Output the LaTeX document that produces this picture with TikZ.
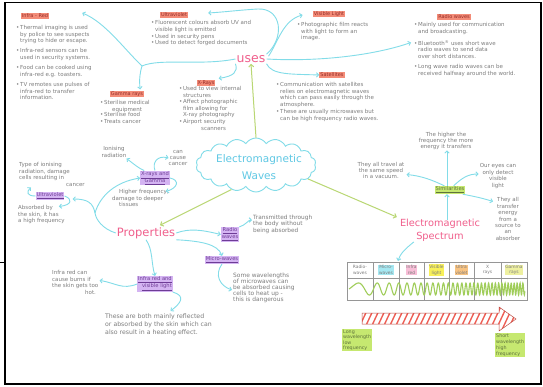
\documentclass[tikz,border=0pt]{standalone}
\usepackage{fontspec}
\setmainfont{DejaVu Sans}
\usetikzlibrary{arrows.meta,shapes.symbols,calc}
\definecolor{txtc}{RGB}{125,125,125}
\definecolor{hlred}{RGB}{243,140,120}
\definecolor{hdrtext}{RGB}{150,45,40}
\definecolor{hlpur}{RGB}{212,180,242}
\definecolor{purtext}{RGB}{110,60,150}
\definecolor{hlgreen}{RGB}{198,232,112}
\definecolor{grtext}{RGB}{95,115,60}
\definecolor{cyanl}{RGB}{130,220,232}
\definecolor{cyant}{RGB}{95,200,228}
\definecolor{greenl}{RGB}{185,215,115}
\definecolor{pinkc}{RGB}{240,95,140}
\definecolor{wavec}{RGB}{160,205,90}
\definecolor{stripec}{RGB}{238,95,85}
\definecolor{gridc}{RGB}{150,150,150}
\definecolor{hlcyan}{RGB}{165,232,242}
\definecolor{hlpink}{RGB}{248,190,215}
\definecolor{hlyel}{RGB}{248,240,90}
\definecolor{hlorange}{RGB}{248,195,130}
\definecolor{hllime}{RGB}{238,240,160}
\newcommand\bu{\makebox[4pt][l]{\textbullet}}
\newcommand\ii{\hspace*{4pt}}
\begin{document}
\begin{tikzpicture}[x=1pt,y=-1pt,
 txt/.style={text=txtc,font=\fontsize{5.5}{6.4}\selectfont,align=left,inner sep=0pt,anchor=north west},
 ctxt/.style={text=txtc,font=\fontsize{5.5}{6.4}\selectfont,align=center,inner sep=0pt},
 hdr/.style={fill=hlred,text=hdrtext,font=\fontsize{5}{6}\selectfont,inner sep=1pt},
 phdr/.style={fill=hlpur,text=purtext,font=\fontsize{5.2}{7}\selectfont,inner sep=0.8pt,align=center},
 ghdr/.style={fill=hlgreen,text=grtext,font=\fontsize{5.2}{6}\selectfont,inner sep=1pt,align=left},
 title/.style={text=pinkc,align=center,inner sep=1pt},
 carrow/.style={draw=cyanl,line width=0.9pt,-{Straight Barb[length=2.2pt,width=4.4pt]}},
 cline/.style={draw=cyanl,line width=0.9pt},
 garrow/.style={draw=greenl,line width=1pt,-{Straight Barb[length=2.5pt,width=5pt]}},
 lbl/.style={text=txtc,font=\fontsize{4.4}{5.6}\selectfont,align=center,inner sep=0.6pt},
]
\useasboundingbox (0,0) rectangle (543,387);
\fill[white] (0,0) rectangle (543,387);
\draw[line width=1.6pt] (5,2.5) rectangle (541,384);
\draw[line width=1pt] (0,262) -- (5,262);

% ---------- uses ----------
\node[title,font=\fontsize{12.5}{14}\selectfont] (uses) at (251,59) {uses};

\node[hdr] (irh) at (35,16) {Infra - Red};
\node[txt] (ir1) at (16,25.5) {\bu Thermal imaging is used\\\ii by police to see suspects\\\ii trying to hide or escape.};
\node[txt] (ir2) at (16,48.5) {\bu Infra-red sensors can be\\\ii used in security systems.};
\node[txt] (ir3) at (16,65.5) {\bu Food can be cooked using\\\ii infra-red e.g. toasters.};
\node[txt] (ir4) at (16,82.5) {\bu TV remotes use pulses of\\\ii infra-red to transfer\\\ii information.};

\node[hdr] (uvh) at (174,15) {Ultraviolet};
\node[txt] (uv1) at (151,20.5) {\bu Fluorescent colours absorb UV and\\\ii visible light is emitted};
\node[txt] (uv2) at (151,34) {\bu Used in security pens};
\node[txt] (uv3) at (151,40) {\bu Used to detect forged documents};

\node[hdr] (vlh) at (329,14) {Visible Light};
\node[txt] (vl1) at (297,22.5) {\bu Photographic film reacts\\\ii with light to form an\\\ii image.};

\node[hdr] (rh) at (454,17) {Radio waves};
\node[txt] (r1) at (414,22.5) {\bu Mainly used for communication\\\ii and broadcasting.};
\node[txt] (r2) at (414,40.5) {\bu Bluetooth\textsuperscript{®} uses short wave\\\ii radio waves to send data\\\ii over short distances.};
\node[txt] (r3) at (414,64.5) {\bu Long wave radio waves can be\\\ii received halfway around the world.};

\node[hdr] (gh) at (127,94) {Gamma rays};
\node[txt] (g1) at (100,100.5) {\bu Sterilise medical\\\hspace*{12pt}equipment};
\node[txt] (g2) at (100,112.5) {\bu Sterilise food};
\node[txt] (g3) at (100,119.5) {\bu Treats cancer};

\node[hdr] (xh) at (206,83) {X-Rays};
\node[txt] (x1) at (179,86.5) {\bu Used to view internal\\\ii structures};
\node[txt] (x2) at (179,99.5) {\bu Affect photographic\\\ii film allowing for\\\ii X-ray photography};
\node[txt] (x3) at (179,119.5) {\bu Airport security\\\hspace*{22pt}scanners};

\node[hdr] (sath) at (332,75) {Satellites};
\node[txt] (s1) at (276,82.5) {\bu Communication with satellites\\\ii relies on electromagnetic waves\\\ii which can pass easily through the\\\ii atmosphere.};
\node[txt] (s2) at (276,109.5) {\bu These are usually microwaves but\\\ii can be high frequency radio waves.};

\draw[carrow] (uses.north east) .. controls (285,38) and (282,8) .. (258,9) .. controls (240,10) and (225,12) .. ($(uvh.east)+(20,-2)$);
\draw[carrow] ($(uses.north east)+(2,2)$) .. controls (278,42) and (283,20) .. ($(vlh.west)+(-10,1)$);
\draw[carrow] (uses.east) .. controls (320,62) and (375,55) .. ($(r2.north west)+(-3,2)$);
\draw[carrow] (uses.south east) .. controls (272,75) and (290,74) .. (sath.west);
\draw[carrow] (uses.south west) .. controls (238,72) and (234,76) .. ($(xh.north east)+(3,-1)$);
\coordinate (ub) at (142,66);
\draw[cline] (uses.west) .. controls (200,66) and (160,58) .. (ub);
\draw[carrow] (ub) .. controls (140,72) and (139,80) .. ($(gh.north east)+(-4,-1)$);
\draw[carrow] (ub) .. controls (125,50) and (105,22) .. ($(irh.east)+(33,-3)$);

% ---------- centre ----------
\node[cloud,draw=cyanl,line width=0.9pt,cloud puffs=18,cloud puff arc=115,aspect=2.2,minimum width=120pt,minimum height=54pt,inner sep=0pt] (cloud) at (256,165) {};
\node[text=cyant,font=\fontsize{10.5}{17}\selectfont,align=center] (ew) at (259,167) {Electromagnetic\\Waves};

% ---------- properties ----------
\node[title,font=\fontsize{11.5}{13}\selectfont] (props) at (146,233) {Properties};

\node[ctxt] (ion) at (114,152) {Ionising\\radiation};
\node[phdr] (xg) at (155,178) {\underline{X-rays and}\\\underline{Gamma}};
\node[ctxt] (cancer) at (178,158) {can\\cause\\cancer};
\node[txt] (higher) at (112,189.5) {\hspace*{7pt}Higher frequency,\\damage to deeper\\\hspace*{7pt}tissues};
\node[phdr] (uvp) at (50,196) {\underline{Ultraviolet}};
\node[txt] (type) at (19,162.5) {Type of ionising\\radiation, damage\\cells resulting in\\\hspace*{47pt}cancer};
\node[txt] (absorbed) at (18,205.5) {Absorbed by\\the skin, it has\\a high frequency};
\node[phdr,align=right] (irv) at (155,284) {\underline{Infra red and}\\\underline{visible light}};
\node[txt] (burns) at (52,270.5) {Infra red can\\cause burns if\\the skin gets too\\\hspace*{33pt}hot.};
\node[txt,font=\fontsize{6.2}{8}\selectfont] (both) at (105,314) {These are both mainly reflected\\or absorbed by the skin which can\\also result in a heating effect.};
\node[phdr] (rw) at (230,234.5) {\underline{Radio}\\\underline{waves}};
\node[txt,font=\fontsize{5.8}{6.5}\selectfont] (trans) at (253,214.5) {Transmitted through\\the body without\\being absorbed};
\node[phdr] (mw) at (222,260) {\underline{Micro-waves}};
\node[txt,font=\fontsize{5.9}{6.2}\selectfont] (some) at (233,272.5) {Some wavelengths\\of microwaves can\\be absorbed causing\\cells to heat up -\\this is dangerous};

\coordinate (pb) at (95,213);
\draw[cline] (props.west) .. controls (103,229) and (96,220) .. (pb);
\draw[carrow] (pb) .. controls (93,203) and (88,199) .. ($(uvp.east)+(8,3)$);
\draw[carrow] (pb) .. controls (100,196) and (115,182) .. (xg.west);
\draw[carrow] ($(xg.north west)+(4,0)$) .. controls (138,168) and (134,164) .. ($(ion.south east)+(0,1)$);
\draw[carrow] (xg.north) .. controls (152,163) and (157,155) .. (cancer.west);
\draw[carrow] (xg.east) .. controls (180,180) and (178,188) .. ($(higher.north east)+(-3,2)$);
\draw[carrow] (uvp.west) .. controls (27,196) and (26,192) .. ($(type.south west)+(12,1)$);
\draw[carrow] (uvp.east) .. controls (73,199) and (72,205) .. ($(absorbed.north east)+(-6,1)$);
\draw[carrow] (props.south) .. controls (153,250) and (151,262) .. (irv.north);
\draw[carrow] (irv.west) .. controls (122,290) and (116,283) .. ($(burns.east)+(1,-2)$);
\draw[carrow] (irv.south east) .. controls (186,296) and (181,303) .. ($(both.north)+(12,-3)$);
\draw[carrow] (props.east) .. controls (190,228) and (202,230) .. (rw.west);
\draw[carrow] (rw.north east) .. controls (246,225) and (248,220) .. ($(trans.west)+(-1,-4)$);
\draw[carrow] (props.south east) .. controls (200,241) and (218,244) .. (mw.north);
\draw[carrow] (mw.south) .. controls (214,275) and (220,286) .. ($(some.west)+(-1,2)$);

% ---------- spectrum ----------
\node[title,font=\fontsize{9.8}{13}\selectfont] (spec) at (440,230.5) {Electromagnetic\\Spectrum};
\node[ghdr] (sim) at (450,190) {\underline{Similarities}};
\node[ctxt] (higherf) at (446,141) {The higher the\\frequency the more\\energy it transfers};
\node[ctxt] (travel) at (381,170.5) {They all travel at\\the same speed\\in a vacuum.};
\node[ctxt] (eyes) at (498,176) {Our eyes can\\only detect\\visible\\light};
\node[ctxt] (transfer) at (508,219) {They all\\transfer\\energy\\from a\\source to\\an\\absorber};

\draw[carrow] ($(spec.north)+(7,2)$) -- ($(sim.south)+(-3,0)$);
\draw[carrow] ($(sim.north)+(-3,0)$) -- ($(higherf.south)+(1,0)$);
\draw[carrow] ($(sim.north west)+(10,0)$) .. controls (432,180) and (422,176) .. ($(travel.east)+(2,4)$);
\draw[carrow] ($(sim.north east)+(-12,0)$) .. controls (462,178) and (468,174) .. ($(eyes.west)+(-1,-2)$);
\draw[carrow] ($(sim.south east)+(-3,0)$) .. controls (478,197) and (485,199) .. ($(transfer.north west)+(-2,4)$);

% table
\draw[gridc,line width=0.5pt] (347,262) rectangle (527,300);
\draw[gridc,line width=0.5pt] (347,278) -- (527,278);
\foreach \xx in {373,399,424,449,474,501} \draw[gridc,line width=0.5pt] (\xx,262) -- (\xx,300);
\node[lbl] (l1) at (360,270) {Radio-\\waves};
\node[lbl,fill=hlcyan] (l2) at (386,270) {Micro-\\waves};
\node[lbl,fill=hlpink] (l3) at (411.5,270) {Infra\\red};
\node[lbl,fill=hlyel] (l4) at (436.5,270) {Visible\\light};
\node[lbl,fill=hlorange] (l5) at (461.5,270) {Ultra\\violet};
\node[lbl] (l6) at (487.5,270) {X\\rays};
\node[lbl,fill=hllime] (l7) at (514,270) {Gamma\\rays};
\draw[wavec,line width=1.1pt] plot[domain=0:1,samples=700] ({349+176*\x},{289-6*sin(360*(3*\x+30*\x*\x))});
\coordinate (tabtop) at (398,261);
\draw[carrow] ($(spec.south west)+(15,-1)$) .. controls (405,249) and (400,254) .. (tabtop);

% striped arrow
\begin{scope}
\clip (362,313) -- (499,313) -- (499,307) -- (516,319) -- (499,331) -- (499,324) -- (362,324) -- cycle;
\foreach \s in {344,350,...,524} \draw[stripec,line width=1.4pt] (\s,334) -- (\s+14,304);
\end{scope}
\draw[stripec!80!black,line width=0.5pt] (362,313) -- (499,313) -- (499,307) -- (516,319) -- (499,331) -- (499,324) -- (362,324) -- cycle;

\node[ghdr,font=\fontsize{4.8}{5.4}\selectfont,anchor=north west] (longw) at (342,328.5) {Long\\wavelength\\low\\frequency};
\node[ghdr,font=\fontsize{4.8}{6}\selectfont,anchor=north west] (shortw) at (495,332.5) {Short\\wavelength\\high\\frequency};

% green main connectors
\draw[garrow] (cloud.north) -- (uses.south);
\draw[garrow] (cloud.225) -- ($(props.north)+(14,-1)$);
\draw[garrow] (cloud.345) -- ($(spec.north west)+(-2,-1)$);
\end{tikzpicture}
\end{document}
